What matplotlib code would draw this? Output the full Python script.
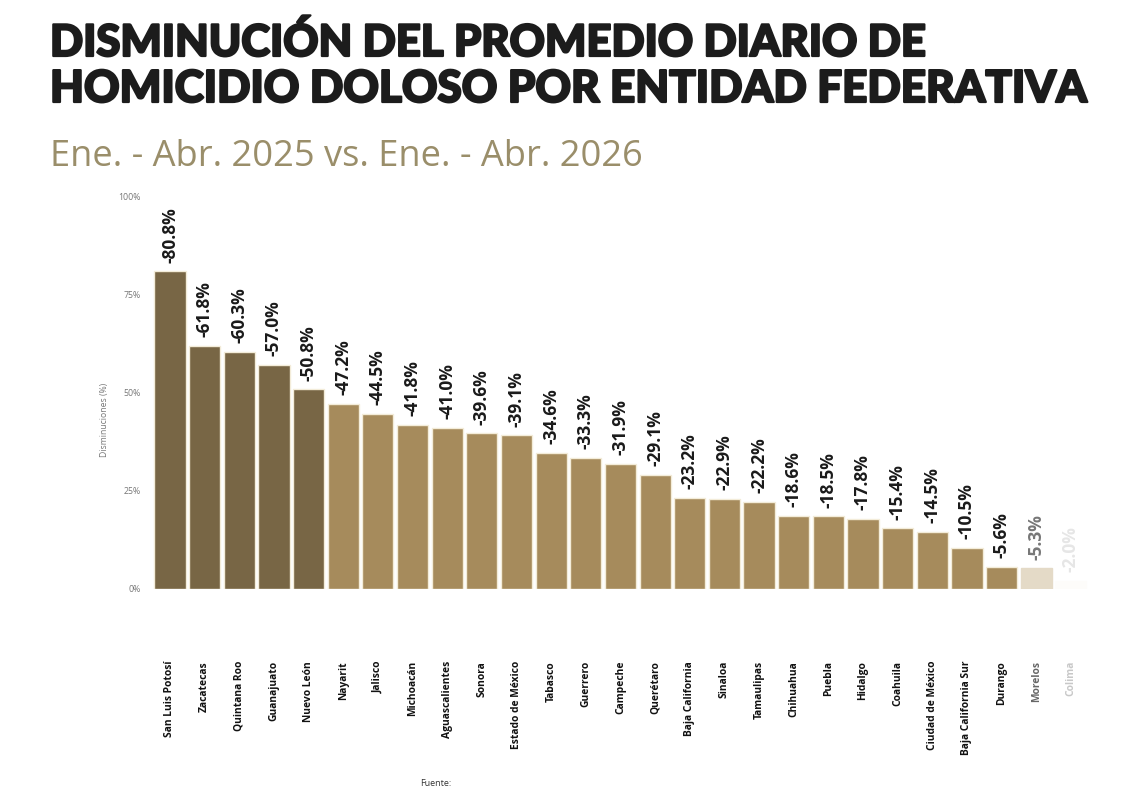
import matplotlib
matplotlib.use("Agg")
import matplotlib.pyplot as plt
from matplotlib import font_manager as fm
import matplotlib.patheffects as pe

states = ["San Luis Potosí", "Zacatecas", "Quintana Roo", "Guanajuato", "Nuevo León",
          "Nayarit", "Jalisco", "Michoacán", "Aguascalientes", "Sonora",
          "Estado de México", "Tabasco", "Guerrero", "Campeche", "Querétaro",
          "Baja California", "Sinaloa", "Tamaulipas", "Chihuahua", "Puebla",
          "Hidalgo", "Coahuila", "Ciudad de México", "Baja California Sur", "Durango",
          "Morelos", "Colima"]
decrease = [80.8, 61.8, 60.3, 57.0, 50.8, 47.2, 44.5, 41.8, 41.0, 39.6,
            39.1, 34.6, 33.3, 31.9, 29.1, 23.2, 22.9, 22.2, 18.6, 18.5,
            17.8, 15.4, 14.5, 10.5, 5.6, 5.3, 2.0]
yticks = [0, 25, 50, 75, 100]
ytick_labels = ["0%", "25%", "50%", "75%", "100%"]
title_lines = ["DISMINUCIÓN DEL PROMEDIO DIARIO DE",
               "HOMICIDIO DOLOSO POR ENTIDAD FEDERATIVA"]
subtitle = "Ene. - Abr. 2025 vs. Ene. - Abr. 2026"

DARK = "#786645"
LIGHT = "#a68b5c"
FADED = "#e4dac7"

names = {f.name for f in fm.fontManager.ttflist}
base = "Open Sans" if "Open Sans" in names else "DejaVu Sans"
tfont = "Lato" if "Lato" in names else "DejaVu Sans"

fig = plt.figure(figsize=(11.4, 7.9), dpi=100)
fig.patch.set_facecolor("white")

W, H = 1140, 790
step = 34.65
left_px = 170 - 0.6 * step
ax = fig.add_axes([left_px / W, (H - 589) / H, 28.2 * step / W, 393 / H])
ax.set_xlim(-0.6, 27.6)
ax.set_ylim(0, 100)

n = len(states)
colors, edges = [], []
for i in range(n):
    if i < 5:
        colors.append(DARK); edges.append("#f3ecd9")
    elif i < 25:
        colors.append(LIGHT); edges.append("#f3ecd9")
    elif i == 25:
        colors.append(FADED); edges.append(FADED)
    else:
        colors.append("#fdfcfa"); edges.append("#fdfcfa")
x = list(range(n))
ax.bar(x, decrease, width=0.9, color=colors, edgecolor=edges, linewidth=1.0)

for i, v in enumerate(decrease):
    if i < 25:
        col = "#1a1a1a"
    elif i == 25:
        col = "#777777"
    else:
        col = "#e6e6e6"
    ax.text(i, v + 2.2, f"-{v:.1f}%", rotation=90, ha="center", va="bottom",
            fontsize=12.5, fontweight="bold", color=col, family=base)

ax.set_yticks(yticks)
ax.set_yticklabels(ytick_labels, fontsize=6.3, color="#777777", family=base)
ax.tick_params(axis="y", length=0, pad=6)
ax.set_xticks(x)
ax.set_xticklabels([])
ax.tick_params(axis="x", length=0)
for s in ax.spines.values():
    s.set_visible(False)

for i, name in enumerate(states):
    if i < 25:
        col = "#111111"
    elif i == 25:
        col = "#666666"
    else:
        col = "#c8c8c8"
    ax.text(i, -18.3, name, rotation=90, ha="center", va="top", fontsize=7.4,
            fontweight="bold", color=col, family=base, clip_on=False)

fig.text(105 / W, 1 - 420 / H, "Disminuciones (%)", rotation=90, ha="center",
         va="center", fontsize=6.2, color="#777777", family=base)

renderer = fig.canvas.get_renderer()


def fitted(xpx, ypx, s, target_w, size, **kw):
    t = fig.text(xpx / W, 1 - ypx / H, s, ha="left", va="baseline", fontsize=size, **kw)
    w = t.get_window_extent(renderer).width
    t.set_fontsize(size * target_w / w)
    return t


stroke = [pe.withStroke(linewidth=1.6, foreground="#1c1c1c")]
fitted(50, 56, title_lines[0], 875, 31, fontweight="black", color="#1c1c1c",
       family=tfont, path_effects=stroke)
fitted(50, 102, title_lines[1], 1036, 31, fontweight="black", color="#1c1c1c",
       family=tfont, path_effects=stroke)
fitted(50, 166, subtitle, 594, 24, color="#9a8e6a", family=base)
fig.text(420 / W, 1 - 783 / H, "Fuente:", ha="left", va="center", fontsize=6.5,
         color="#333333", family=base)

fig.savefig("out.png", dpi=100, facecolor="white")
